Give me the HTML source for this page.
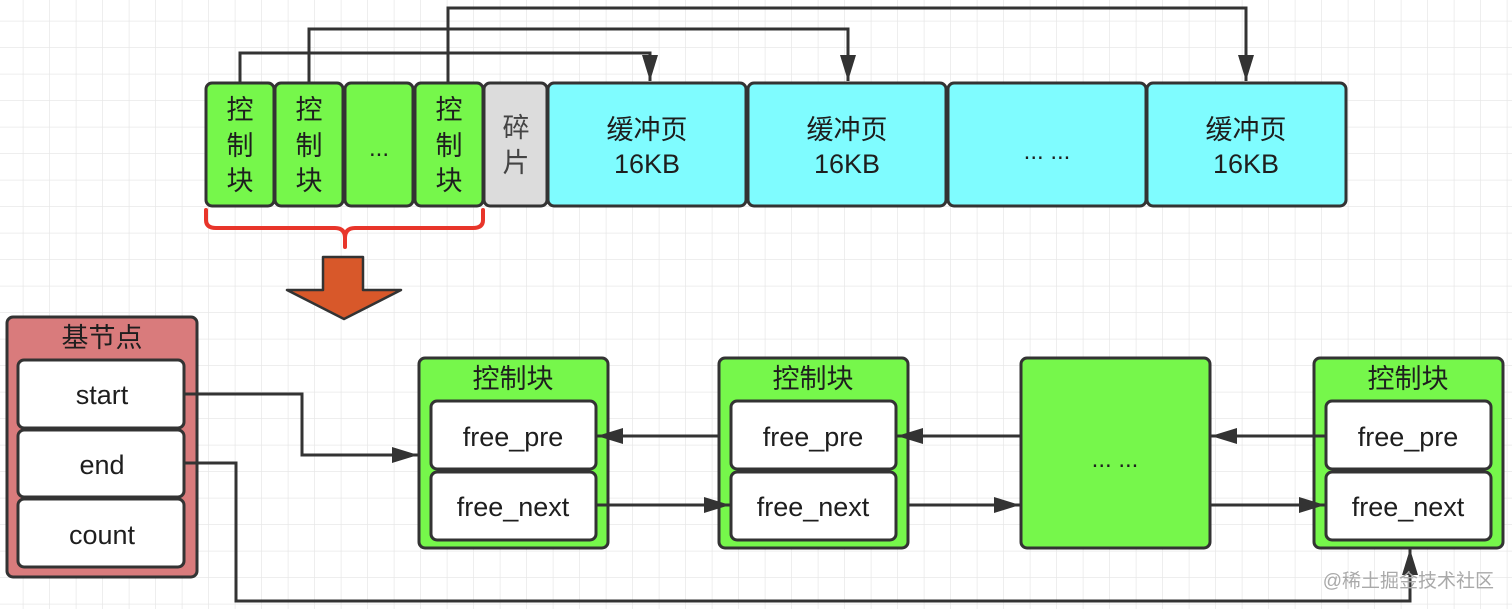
<!DOCTYPE html>
<html><head><meta charset="utf-8"><style>
html,body{margin:0;padding:0;background:#fff;}
svg{display:block;}
text{font-family:"Liberation Sans","Noto Sans CJK SC",sans-serif;fill:#1e1e1e;}
</style></head><body>
<svg width="1512" height="609" viewBox="0 0 1512 609" xmlns="http://www.w3.org/2000/svg">
<defs>
<pattern id="g" width="26.5" height="26.5" patternUnits="userSpaceOnUse" x="-3" y="-5">
<path d="M26.5 0V26.5M0 26.5H26.5" stroke="#e8e8e8" stroke-width="1.5" fill="none"/>
</pattern>
<marker id="b" markerWidth="26" markerHeight="16" refX="26" refY="8" orient="auto" markerUnits="userSpaceOnUse" viewBox="0 0 26 16">
<path d="M0 0L26 8L0 16z" fill="#333"/>
</marker>
</defs>
<rect width="1512" height="609" fill="url(#g)"/>

<g stroke="#333" stroke-width="3" fill="none">
<path d="M240 83V53H650V81" marker-end="url(#b)"/>
<path d="M309 83V29H848V81" marker-end="url(#b)"/>
<path d="M448 83V8H1246V81" marker-end="url(#b)"/>
</g>

<g stroke="#333" stroke-width="3">
<rect x="206" y="83" width="68" height="123" rx="6" fill="#76f74b"/>
<rect x="275" y="83" width="68" height="123" rx="6" fill="#76f74b"/>
<rect x="345" y="83" width="68" height="123" rx="6" fill="#76f74b"/>
<rect x="415" y="83" width="68" height="123" rx="6" fill="#76f74b"/>
<rect x="484" y="83" width="63" height="123" rx="6" fill="#dcdcdc"/>
<rect x="548" y="83" width="198" height="123" rx="6" fill="#7ffcff"/>
<rect x="748" y="83" width="198" height="123" rx="6" fill="#7ffcff"/>
<rect x="948" y="83" width="198" height="123" rx="6" fill="#7ffcff"/>
<rect x="1147" y="83" width="199" height="123" rx="6" fill="#7ffcff"/>
</g>
<g font-size="27" text-anchor="middle">
<text x="240" y="119">控</text><text x="240" y="155">制</text><text x="240" y="190">块</text>
<text x="309" y="119">控</text><text x="309" y="155">制</text><text x="309" y="190">块</text>
<text x="379" y="156" font-size="24">...</text>
<text x="449" y="119">控</text><text x="449" y="155">制</text><text x="449" y="190">块</text>
<text x="516" y="137" fill="#444" style="fill:#444">碎</text><text x="516" y="172" style="fill:#444">片</text>
<text x="647" y="139">缓冲页</text><text x="647" y="173">16KB</text>
<text x="847" y="139">缓冲页</text><text x="847" y="173">16KB</text>
<text x="1047" y="159" font-size="24">... ...</text>
<text x="1246" y="139">缓冲页</text><text x="1246" y="173">16KB</text>
</g>

<path d="M206 210V220Q206 228 216 228H335Q345 228 345 238V247M345 238Q345 228 355 228H473Q483 228 483 220V210" stroke="#e8352a" stroke-width="4" fill="none" stroke-linecap="round"/>

<path d="M323 257H363V290H401L344 319L287 290H323Z" fill="#d8582a" stroke="#333" stroke-width="2.5" stroke-linejoin="round"/>

<rect x="7" y="317" width="190" height="260" rx="6" fill="#d97b7c" stroke="#333" stroke-width="3"/>
<text x="102" y="347" font-size="27" text-anchor="middle">基节点</text>
<g stroke="#333" stroke-width="3" fill="#fff">
<rect x="18" y="360" width="166" height="68" rx="6"/>
<rect x="18" y="430" width="166" height="67" rx="6"/>
<rect x="18" y="499" width="166" height="68" rx="6"/>
</g>
<g font-size="27" text-anchor="middle">
<text x="102" y="404">start</text><text x="102" y="474">end</text><text x="102" y="544">count</text>
</g>

<g stroke="#333" stroke-width="3">
<rect x="419" y="358" width="189" height="190" rx="6" fill="#76f74b"/>
<rect x="719" y="358" width="189" height="190" rx="6" fill="#76f74b"/>
<rect x="1021" y="358" width="189" height="190" rx="6" fill="#76f74b"/>
<rect x="1314" y="358" width="189" height="190" rx="6" fill="#76f74b"/>
</g>
<g stroke="#333" stroke-width="3" fill="#fff">
<rect x="431" y="401" width="165" height="68" rx="6"/><rect x="431" y="472" width="165" height="68" rx="6"/>
<rect x="731" y="401" width="165" height="68" rx="6"/><rect x="731" y="472" width="165" height="68" rx="6"/>
<rect x="1326" y="401" width="165" height="68" rx="6"/><rect x="1326" y="472" width="165" height="68" rx="6"/>
</g>
<g font-size="27" text-anchor="middle">
<text x="513" y="388">控制块</text><text x="513" y="446">free_pre</text><text x="513" y="516">free_next</text>
<text x="813" y="388">控制块</text><text x="813" y="446">free_pre</text><text x="813" y="516">free_next</text>
<text x="1115" y="467" font-size="24">... ...</text>
<text x="1408" y="388">控制块</text><text x="1408" y="446">free_pre</text><text x="1408" y="516">free_next</text>
</g>

<g stroke="#333" stroke-width="3" fill="none">
<path d="M184 394H302V455H418" marker-end="url(#b)"/>
<path d="M184 463H236V601H1410V549" marker-end="url(#b)"/>
<path d="M719 436H597" marker-end="url(#b)"/>
<path d="M1021 436H897" marker-end="url(#b)"/>
<path d="M1326 436H1211" marker-end="url(#b)"/>
<path d="M596 505H730" marker-end="url(#b)"/>
<path d="M908 505H1020" marker-end="url(#b)"/>
<path d="M1210 505H1325" marker-end="url(#b)"/>
</g>

<text x="1494" y="587" font-size="19" text-anchor="end" style="fill:#a9a9a9">@稀土掘金技术社区</text>
</svg>
</body></html>
